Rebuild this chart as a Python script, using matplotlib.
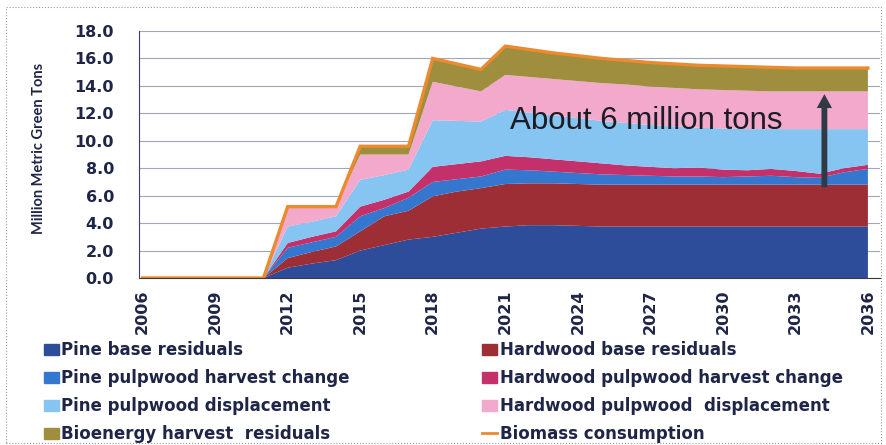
import numpy as np
import matplotlib
matplotlib.use("Agg")
import matplotlib.pyplot as plt
from matplotlib.patches import Patch, Rectangle
from matplotlib.lines import Line2D

years = list(range(2006, 2037))

# values, million metric green tons (2006..2036)
pine_base = [0, 0, 0, 0, 0, 0, 0.75, 1.05, 1.3, 2.0, 2.4, 2.8, 3.0, 3.3, 3.6, 3.75,
             3.85, 3.85, 3.8, 3.75, 3.75, 3.75, 3.75, 3.75, 3.75, 3.75, 3.75, 3.75, 3.75, 3.75, 3.75]
hardwood_base = [0, 0, 0, 0, 0, 0, 0.7, 0.85, 1.0, 1.4, 2.1, 2.1, 2.95, 3.0, 2.95, 3.1,
                 3.05, 3.05, 3.05, 3.05, 3.05, 3.05, 3.05, 3.05, 3.05, 3.05, 3.05, 3.05, 3.05, 3.05, 3.05]
pine_pulp_change = [0, 0, 0, 0, 0, 0, 0.75, 0.7, 0.7, 1.1, 0.6, 0.95, 1.05, 0.9, 0.85, 1.05,
                    0.95, 0.85, 0.8, 0.75, 0.7, 0.65, 0.6, 0.6, 0.55, 0.6, 0.65, 0.55, 0.5, 0.9, 1.15]
hardwood_pulp_change = [0, 0, 0, 0, 0, 0, 0.35, 0.4, 0.4, 0.7, 0.6, 0.45, 1.1, 1.1, 1.1, 1.0,
                        0.95, 0.9, 0.85, 0.8, 0.7, 0.65, 0.6, 0.65, 0.55, 0.45, 0.5, 0.45, 0.3, 0.3, 0.3]
pine_pulp_disp = [0, 0, 0, 0, 0, 0, 1.2, 1.1, 1.1, 1.95, 1.8, 1.6, 3.4, 3.15, 2.9, 3.35,
                  3.25, 3.2, 3.15, 3.1, 3.1, 3.05, 3.05, 2.9, 3.0, 3.0, 2.9, 3.05, 3.25, 2.85, 2.6]
hardwood_pulp_disp = [0, 0, 0, 0, 0, 0, 1.45, 1.1, 0.7, 1.85, 1.5, 1.1, 2.8, 2.5, 2.2, 2.55,
                      2.6, 2.65, 2.7, 2.75, 2.8, 2.8, 2.8, 2.8, 2.8, 2.8, 2.75, 2.75, 2.75, 2.75, 2.75]
bioenergy = [0, 0, 0, 0, 0, 0, 0, 0, 0, 0.6, 0.6, 0.6, 1.7, 1.65, 1.6, 2.1,
             2.0, 1.9, 1.85, 1.8, 1.75, 1.75, 1.75, 1.75, 1.75, 1.75, 1.75, 1.7, 1.7, 1.7, 1.7]
biomass_consumption = [0, 0, 0, 0, 0, 0, 5.2, 5.2, 5.2, 9.6, 9.6, 9.6, 16.0, 15.6, 15.2, 16.9,
                       16.65, 16.4, 16.2, 16.0, 15.85, 15.7, 15.6, 15.5, 15.45, 15.4, 15.35, 15.3, 15.3, 15.3, 15.3]

layers = [pine_base, hardwood_base, pine_pulp_change, hardwood_pulp_change,
          pine_pulp_disp, hardwood_pulp_disp, bioenergy]
names = ["Pine base residuals", "Hardwood base residuals",
         "Pine pulpwood harvest change", "Hardwood pulpwood harvest change",
         "Pine pulpwood displacement", "Hardwood pulpwood  displacement",
         "Bioenergy harvest  residuals"]
colors = ["#2D4C9A", "#9E2E36", "#3577CF", "#C4306A", "#86C4F2", "#F3A9CB", "#9E8E3E"]
line_color = "#EC8A2E"
txt_color = "#1F2547"

fig = plt.figure(figsize=(8.87, 4.45), dpi=100)
ax = fig.add_axes([139 / 887, 1 - 278 / 445, (880 - 139) / 887, (278 - 31) / 445])

ax.stackplot(years, *layers, colors=colors, linewidth=0)
ax.plot(years, biomass_consumption, color=line_color, lw=2.4, solid_joinstyle="miter")

ax.set_xlim(2005.85, 2036.5)
ax.set_ylim(0, 18)
ax.set_yticks(np.arange(0, 18.1, 2))
ax.set_yticklabels([f"{v:.1f}" for v in np.arange(0, 18.1, 2)])
ax.set_xticks(range(2006, 2037, 3))
ax.set_xticklabels([str(y) for y in range(2006, 2037, 3)], rotation=90)

for lab in ax.get_yticklabels() + ax.get_xticklabels():
    lab.set_fontweight("bold")
    lab.set_color(txt_color)
    lab.set_family("DejaVu Sans")
    lab.set_fontsize(11.5)
ax.tick_params(axis="y", length=0, pad=18)
ax.tick_params(axis="x", length=0, pad=8)

ax.grid(axis="y", color="#A3A6B8", lw=0.8)
ax.set_axisbelow(True)
for s in ["top", "right"]:
    ax.spines[s].set_visible(False)
ax.spines["left"].set_color("#3A3F6E")
ax.spines["bottom"].set_color("#3A3A3A")

ax.set_ylabel("Million Metric Green Tons", fontsize=10.5, fontweight="bold",
              color=txt_color, family="Lato")
ax.yaxis.set_label_coords(46 / 887, 1 - 148 / 445, transform=fig.transFigure)

ax.text(2021.2, 11.45, "About 6 million tons", fontsize=22.5, color="#1C1C24",
        family="Liberation Sans", va="center", ha="left")
ax.annotate("", xy=(2034.2, 13.6), xytext=(2034.2, 6.4),
            arrowprops=dict(arrowstyle="simple,head_length=1.0,head_width=1.1,tail_width=0.42",
                            color="#2F3A44", lw=0))

handles = [Patch(color=c) for c in colors]
handles.append(Line2D([0], [0], color=line_color, lw=2))
labels = names + ["Biomass consumption"]
leg_kw = dict(loc="upper left", frameon=False, handlelength=0.9, handleheight=0.65,
              handletextpad=0.15, labelspacing=0.6, borderpad=0, borderaxespad=0,
              prop={"family": "DejaVu Sans", "weight": "bold", "size": 12})
col1 = [0, 2, 4, 6]
col2 = [1, 3, 5, 7]
leg1 = fig.legend([handles[i] for i in col1], [labels[i] for i in col1],
                  bbox_to_anchor=(44 / 887, 1 - 341 / 445), **leg_kw)
leg2 = fig.legend([handles[i] for i in col2], [labels[i] for i in col2],
                  bbox_to_anchor=(482 / 887, 1 - 341 / 445), **leg_kw)
for lg in (leg1, leg2):
    for t in lg.get_texts():
        t.set_color(txt_color)

fig.patches.append(Rectangle((6 / 887, 0.005), 1 - 12 / 887, 1 - 0.02, transform=fig.transFigure,
                             fill=False, ls=":", lw=0.8, ec="#9A9A9A"))

fig.savefig("out.png", dpi=100)
